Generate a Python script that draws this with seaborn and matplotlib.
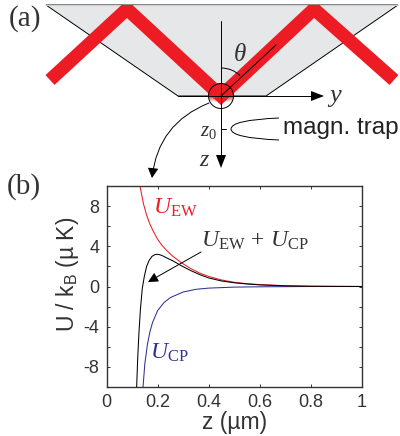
import numpy as np
import pandas as pd
import seaborn as sns
import matplotlib.pyplot as plt
from matplotlib.path import Path
from matplotlib.patches import Polygon, Circle, Arc, FancyArrowPatch, PathPatch, Rectangle

sns.set_theme(style='ticks')
plt.rcParams['font.family'] = ['Liberation Sans', 'DejaVu Sans']
plt.rcParams['mathtext.fontset'] = 'custom'
plt.rcParams['mathtext.rm'] = 'Liberation Serif'
plt.rcParams['mathtext.it'] = 'Liberation Serif:italic'
plt.rcParams['mathtext.sf'] = 'Liberation Sans'

# curves
z_ew = [0.131, 0.145, 0.157, 0.17, 0.183, 0.2, 0.217, 0.235, 0.26, 0.294, 0.33, 0.366,
        0.4, 0.45, 0.5, 0.55, 0.6, 0.7, 0.8, 0.9, 1.0]
u_ew = [10, 8.2, 7.1, 6.2, 5.5, 4.7, 4.1, 3.6, 3.0, 2.35, 1.78, 1.32,
        1.0, 0.65, 0.42, 0.28, 0.19, 0.08, 0.03, 0.01, 0]
z_cp = [0.143, 0.15, 0.16, 0.17, 0.18, 0.2, 0.225, 0.25, 0.3, 0.35, 0.4, 0.5, 0.6, 0.8, 1.0]
u_cp = [-10, -7.7, -5.8, -4.5, -3.6, -2.4, -1.6, -1.1, -0.55, -0.28, -0.16, -0.06, -0.03, 0, 0]
z_tot = [0.118, 0.122, 0.127, 0.133, 0.14, 0.148, 0.157, 0.167, 0.178, 0.19, 0.2, 0.21, 0.22,
         0.235, 0.26, 0.294, 0.33, 0.366, 0.4, 0.45, 0.5, 0.55, 0.6, 0.7, 0.8, 0.9, 1.0]
u_tot = [-10, -7.2, -4.6, -2.2, -0.2, 1.0, 2.0, 2.6, 3.0, 3.18, 3.2, 3.15, 3.05,
         2.85, 2.55, 2.05, 1.58, 1.17, 0.85, 0.55, 0.37, 0.25, 0.16, 0.06, 0.02, 0.01, 0]

x_ticks = [0, 0.2, 0.4, 0.6, 0.8, 1]
x_labels = ['0', '0.2', '0.4', '0.6', '0.8', '1']
y_ticks = [-10, -8, -6, -4, -2, 0, 2, 4, 6, 8, 10]
y_labels = ['', '-8', '', '-4', '', '0', '', '4', '', '8', '']

red = '#ed1c24'
blue = '#2e3192'
dark = '#333333'

curves = pd.concat([
    pd.DataFrame({'z': z_ew, 'U': u_ew, 'curve': 'EW'}),
    pd.DataFrame({'z': z_cp, 'U': u_cp, 'curve': 'CP'}),
    pd.DataFrame({'z': z_tot, 'U': u_tot, 'curve': 'sum'}),
])

fig = plt.figure(figsize=(4, 4.36), dpi=100)

## panel (b)
ax = fig.add_axes([106.5 / 400, 49 / 436, 255.5 / 400, 201 / 436])
sns.lineplot(data=curves, x='z', y='U', hue='curve', estimator=None, sort=False,
             palette={'EW': red, 'CP': blue, 'sum': 'black'}, hue_order=['CP', 'EW', 'sum'],
             linewidth=0.75, legend=False, ax=ax)
ax.set_xlim(0, 1)
ax.set_ylim(-10, 10)
ax.set_xticks(x_ticks)
ax.set_xticklabels(x_labels)
ax.set_yticks(y_ticks)
ax.set_yticklabels(y_labels)
ax.tick_params(direction='in', length=2.5, width=0.7, top=True, right=True, color=dark,
               labelsize=13, labelcolor=dark, pad=5)
for s in ax.spines.values():
    s.set_linewidth(1.0)
    s.set_color(dark)
ax.set_xlabel('z (\u00b5m)', fontsize=16.5, color=dark, labelpad=0)
ax.set_ylabel('U / k$_{\\mathsf{B}}$ (\u00b5 K)', fontsize=16.5, color=dark, labelpad=2, y=0.56)

## overlay in pixel units for the schematic and labels
ov = fig.add_axes([0, 0, 1, 1], facecolor='none')
ov.axis('off')

ov.add_patch(Polygon([(46, 5), (398, 5), (266, 96), (178, 96)], closed=True,
                     facecolor='#e6e7e8', edgecolor='black', linewidth=0.7))
ov.plot([46, 398], [5, 5], color='#cfcfcf', lw=0.8)

clip = Rectangle((0, 5), 400, 431, transform=ov.transData)
beam, = ov.plot([50, 127, 221, 314, 394], [80, 9, 96, 9, 80], color=red, lw=9.6,
                solid_joinstyle='miter', solid_capstyle='butt')
beam.set_clip_path(clip)

# glass surface spot with fade below the interface
fade = np.linspace(0, 1, 64)
spot = np.ones((64, 1, 4))
spot[:, 0, :3] = [0.93, 0.11, 0.14]
spot[:, 0, 3] = np.clip(1 - (fade - 0.5) / 0.28, 0, 1)
im = ov.imshow(spot, extent=(208.5, 233.5, 108.5, 83.5), aspect='auto', interpolation='bilinear', zorder=3)
ov.set_xlim(0, 400)
ov.set_ylim(436, 0)
circ = Circle((221, 96), 12.5, facecolor='none', edgecolor='black', linewidth=0.7, zorder=4)
ov.add_patch(circ)
im.set_clip_path(circ)

ov.plot([221, 221], [21, 160], color='black', lw=0.7, zorder=5)
ov.plot([221, 276], [96, 45], color='black', lw=0.7, zorder=5)
ov.plot([178, 315], [96, 96], color='black', lw=0.7, zorder=5)
ov.add_patch(Polygon([(311, 91), (324, 96), (311, 101)], facecolor='black', edgecolor='none', zorder=5))
ov.add_patch(Polygon([(216, 155), (221, 168), (226, 155)], facecolor='black', edgecolor='none', zorder=5))
ov.add_patch(Arc((221, 96), 56, 56, theta1=-90, theta2=-47, color='black', lw=0.7, zorder=5))
ov.plot([226, 221], [129, 129], color='black', lw=0.7, zorder=5)
ov.add_patch(FancyArrowPatch((209, 103), (152, 178), connectionstyle='arc3,rad=0.3',
                             arrowstyle='-|>,head_length=6,head_width=3.2', color='black',
                             lw=0.7, shrinkA=0, shrinkB=0, zorder=5))
trap = Path([(279, 118), (231, 120), (231, 129), (231, 138), (279, 140)],
            [Path.MOVETO, Path.CURVE3, Path.CURVE3, Path.CURVE3, Path.CURVE3])
ov.add_patch(PathPatch(trap, facecolor='none', edgecolor='black', lw=0.7))
ov.add_patch(FancyArrowPatch((201, 252), (148, 282), arrowstyle='-|>,head_length=6,head_width=3',
                             color='black', lw=0.7, shrinkA=0, shrinkB=0, zorder=5))

serif = ['Liberation Serif', 'DejaVu Serif']
ov.text(9, 19, '(a)', family=serif, fontsize=21, color=dark, va='center')
ov.text(7, 187, '(b)', family=serif, fontsize=21, color=dark, va='center')
ov.text(233, 54, r'$\mathit{\theta}$', fontsize=18, color=dark, va='center')
ov.text(327, 97, r'$\mathit{y}$', fontsize=19, color=dark, va='center')
ov.text(200, 131, r'$\mathit{z}_{0}$', fontsize=15, color=dark, va='center')
ov.text(199, 160, r'$\mathit{z}$', fontsize=17, color=dark, va='center')
ov.text(283, 128, 'magn. trap', fontsize=17.5, color='#222222', va='center')
ov.text(153, 208, r'$\mathit{U}_{\mathrm{EW}}$', fontsize=17, color=red, va='center')
ov.text(150, 353, r'$\mathit{U}_{\mathrm{CP}}$', fontsize=17, color=blue, va='center')
ov.text(201, 241, r'$\mathit{U}_{\mathrm{EW}}\,+\,\mathit{U}_{\mathrm{CP}}$', fontsize=17, color=dark, va='center')

plt.savefig('out.png', dpi=100)
